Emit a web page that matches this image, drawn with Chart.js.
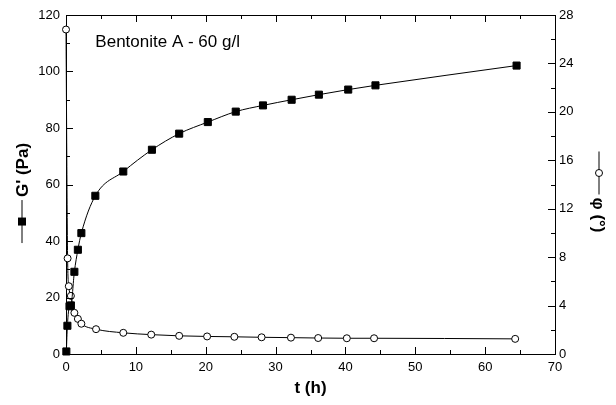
<!DOCTYPE html>
<html>
<head>
<meta charset="utf-8">
<script src="https://cdn.jsdelivr.net/npm/chart.js@4.4.1/dist/chart.umd.min.js"></script>
<style>
  html, body { margin: 0; padding: 0; background: #fff; }
</style>
</head>
<body>
<canvas id="chart" width="616" height="405"></canvas>
<script>
// values
var gTime   = [0.05, 0.2, 0.5, 0.7, 1.2, 1.7, 2.2, 4.2, 8.2, 12.3, 16.2, 20.3, 24.3, 28.2, 32.3, 36.2, 40.4, 44.3, 64.5];
var gValue  = [0.9, 10, 16.9, 17.2, 29.1, 36.9, 42.8, 56.0, 64.6, 72.3, 78.0, 82.1, 85.8, 88.0, 90.0, 91.8, 93.6, 95.1, 102.1];

var phiTime  = [0, 0.23, 0.4, 0.7, 1.2, 1.7, 2.2, 4.3, 8.2, 12.2, 16.2, 20.2, 24.1, 28, 32.2, 36.1, 40.2, 44.1, 64.3];
var phiValue = [26.8, 7.9, 5.6, 4.8, 3.4, 2.9, 2.5, 2.05, 1.75, 1.6, 1.5, 1.45, 1.42, 1.38, 1.35, 1.32, 1.3, 1.3, 1.25];

var xTicks   = { min: 0, max: 70, step: 10 };
var gTicks   = { min: 0, max: 120, step: 20 };
var phiTicks = { min: 0, max: 28, step: 4 };

var sampleLabel = "Bentonite A - 60 g/l";
var xTitle = "t (h)";
var gTitle = "G' (Pa)";
var phiTitle = "\u03C6 (\u00B0)";

var FONT = "'Liberation Sans', Arial, sans-serif";

function toPoints(xs, ys) {
    var out = [];
    for (var i = 0; i < xs.length; i++) out.push({ x: xs[i], y: ys[i] });
    return out;
}

// frame, inward ticks, label and y titles with their symbols
var framePlugin = {
    id: 'frame',
    afterDraw: function (chart) {
        var ctx = chart.ctx;
        var a = chart.chartArea;
        var sx = chart.scales.x, sy = chart.scales.y, sy1 = chart.scales.y1;
        ctx.save();
        ctx.strokeStyle = '#000';
        ctx.lineWidth = 1;
        ctx.beginPath();
        ctx.moveTo(a.left, Math.round(a.top) + 0.5);
        ctx.lineTo(a.right, Math.round(a.top) + 0.5);
        ctx.stroke();

        ctx.beginPath();
        var v, p, len;
        for (v = xTicks.min; v <= xTicks.max; v += xTicks.step / 2) {
            p = Math.round(sx.getPixelForValue(v)) + 0.5;
            len = (v % xTicks.step === 0) ? 7 : 4;
            ctx.moveTo(p, a.bottom); ctx.lineTo(p, a.bottom - len);
            ctx.moveTo(p, a.top); ctx.lineTo(p, a.top + len);
        }
        for (v = gTicks.min; v <= gTicks.max; v += gTicks.step / 2) {
            p = Math.round(sy.getPixelForValue(v)) + 0.5;
            len = (v % gTicks.step === 0) ? 7 : 4;
            ctx.moveTo(a.left, p); ctx.lineTo(a.left + len, p);
        }
        for (v = phiTicks.min; v <= phiTicks.max; v += phiTicks.step / 2) {
            p = Math.round(sy1.getPixelForValue(v)) + 0.5;
            len = (v % phiTicks.step === 0) ? 7 : 4;
            ctx.moveTo(a.right, p); ctx.lineTo(a.right - len, p);
        }
        ctx.stroke();

        // sample label
        ctx.fillStyle = '#000';
        ctx.font = '17px ' + FONT;
        ctx.textAlign = 'left';
        ctx.textBaseline = 'middle';
        ctx.fillText(sampleLabel, sx.getPixelForValue(4.2), sy.getPixelForValue(110.2));

        // left title: line + filled square + text, reading upward
        ctx.font = 'bold 17px ' + FONT;
        var symLen = 43, gap = 3;
        var w = ctx.measureText(gTitle).width;
        var start = -(symLen + gap + w) / 2;
        ctx.save();
        ctx.translate(22, 193);
        ctx.rotate(-Math.PI / 2);
        ctx.beginPath();
        ctx.moveTo(start, 0); ctx.lineTo(start + symLen, 0);
        ctx.stroke();
        ctx.fillRect(start + symLen / 2 - 4, -4, 8, 8);
        ctx.fillText(gTitle, start + symLen + gap, 1);
        ctx.restore();

        // right title: line + open circle + text, reading downward
        w = ctx.measureText(phiTitle).width;
        start = -(symLen + gap + w) / 2;
        ctx.save();
        ctx.translate(599, 192);
        ctx.rotate(Math.PI / 2);
        ctx.beginPath();
        ctx.moveTo(start, 0); ctx.lineTo(start + symLen, 0);
        ctx.stroke();
        ctx.beginPath();
        ctx.arc(start + symLen / 2, 0, 3.5, 0, Math.PI * 2);
        ctx.fillStyle = '#fff';
        ctx.fill();
        ctx.stroke();
        ctx.fillStyle = '#000';
        ctx.fillText(phiTitle, start + symLen + gap, 1);
        ctx.restore();

        ctx.restore();
    }
};

Chart.defaults.font.family = FONT;
Chart.defaults.color = '#000';

var ctx = document.getElementById('chart').getContext('2d');
var chart = new Chart(ctx, {
    type: 'line',
    data: {
        datasets: [
            {
                label: "G'",
                data: toPoints(gTime, gValue),
                yAxisID: 'y',
                borderColor: '#000',
                borderWidth: 1,
                backgroundColor: '#000',
                pointStyle: 'rect',
                pointRadius: 5,
                pointBorderWidth: 1,
                pointBackgroundColor: '#000',
                pointBorderColor: '#000',
                cubicInterpolationMode: 'monotone',
                fill: false,
                clip: false
            },
            {
                label: 'phi',
                data: toPoints(phiTime, phiValue),
                yAxisID: 'y1',
                borderColor: '#000',
                borderWidth: 1,
                pointStyle: 'circle',
                pointRadius: 3.5,
                pointBorderWidth: 1,
                pointBackgroundColor: '#fff',
                pointBorderColor: '#000',
                cubicInterpolationMode: 'monotone',
                fill: false,
                clip: false
            }
        ]
    },
    options: {
        responsive: false,
        animation: false,
        layout: { padding: { top: 15, left: 0, right: 0, bottom: 0 } },
        plugins: {
            legend: { display: false },
            tooltip: { enabled: false }
        },
        scales: {
            x: {
                type: 'linear',
                position: 'bottom',
                min: xTicks.min, max: xTicks.max,
                ticks: { stepSize: xTicks.step, font: { size: 13 }, padding: 6, maxRotation: 0 },
                grid: { display: false, drawTicks: false },
                border: { display: true, color: '#000', width: 1 },
                title: { display: true, text: xTitle, font: { size: 17, weight: 'bold' }, padding: { top: 0, bottom: 6 } },
                afterFit: function (s) { s.height = 51; }
            },
            y: {
                type: 'linear',
                position: 'left',
                min: gTicks.min, max: gTicks.max,
                ticks: { stepSize: gTicks.step, font: { size: 13 }, padding: 6 },
                grid: { display: false, drawTicks: false },
                border: { display: true, color: '#000', width: 1 },
                afterFit: function (s) { s.width = 66; }
            },
            y1: {
                type: 'linear',
                position: 'right',
                min: phiTicks.min, max: phiTicks.max,
                ticks: { stepSize: phiTicks.step, font: { size: 13 }, padding: 4 },
                grid: { display: false, drawTicks: false },
                border: { display: true, color: '#000', width: 1 },
                afterFit: function (s) { s.width = 61; }
            }
        }
    },
    plugins: [framePlugin]
});
</script>
</body>
</html>
